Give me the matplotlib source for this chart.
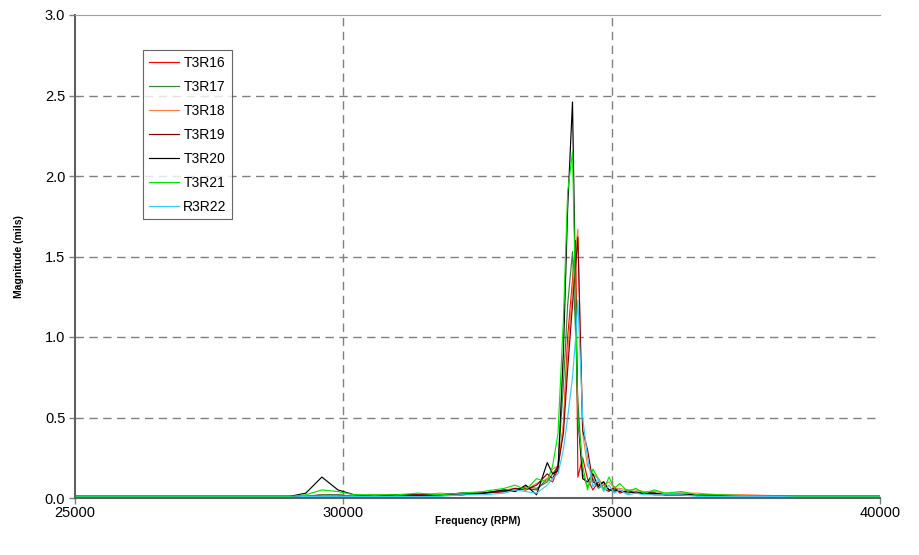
import matplotlib
matplotlib.use("Agg")
import matplotlib.pyplot as plt

# Frequency grid (RPM) shared by all runs
freq = [25000, 26000, 27000, 28000, 29000, 29300, 29600, 29900, 30200, 30600,
        31000, 31400, 31800, 32200, 32600, 33000, 33200, 33400, 33600, 33800,
        33900, 34000, 34100, 34180, 34270, 34330, 34370, 34460, 34550, 34650,
        34750, 34850, 34950, 35050, 35150, 35300, 35450, 35600, 35800, 36000,
        36300, 36600, 37000, 37500, 38000, 38500, 39000, 39500, 40000]

t3r16 = [0.01, 0.01, 0.01, 0.01, 0.01, 0.01, 0.02, 0.02, 0.01, 0.01,
         0.02, 0.01, 0.02, 0.02, 0.03, 0.04, 0.05, 0.06, 0.05, 0.12,
         0.10, 0.18, 0.45, 1.00, 1.35, 1.60, 0.13, 0.25, 0.12, 0.05,
         0.10, 0.06, 0.04, 0.07, 0.03, 0.05, 0.03, 0.04, 0.03, 0.02,
         0.03, 0.02, 0.02, 0.015, 0.01, 0.01, 0.01, 0.01, 0.01]
t3r17 = [0.01, 0.01, 0.01, 0.01, 0.01, 0.01, 0.02, 0.02, 0.01, 0.02,
         0.02, 0.02, 0.02, 0.03, 0.03, 0.05, 0.04, 0.07, 0.06, 0.10,
         0.15, 0.20, 0.70, 1.20, 1.53, 1.00, 0.60, 0.15, 0.07, 0.12,
         0.06, 0.08, 0.05, 0.04, 0.05, 0.03, 0.04, 0.03, 0.03, 0.02,
         0.02, 0.02, 0.015, 0.01, 0.01, 0.01, 0.01, 0.01, 0.01]
t3r18 = [0.01, 0.01, 0.01, 0.01, 0.01, 0.01, 0.01, 0.01, 0.01, 0.02,
         0.02, 0.02, 0.03, 0.02, 0.03, 0.05, 0.06, 0.05, 0.09, 0.12,
         0.18, 0.20, 0.45, 0.90, 1.30, 1.55, 1.67, 0.40, 0.20, 0.15,
         0.12, 0.08, 0.10, 0.06, 0.06, 0.05, 0.05, 0.04, 0.04, 0.03,
         0.03, 0.03, 0.02, 0.02, 0.015, 0.01, 0.01, 0.01, 0.01]
t3r19 = [0.01, 0.01, 0.01, 0.01, 0.01, 0.01, 0.01, 0.01, 0.01, 0.01,
         0.02, 0.02, 0.02, 0.03, 0.03, 0.04, 0.06, 0.05, 0.08, 0.15,
         0.12, 0.20, 0.40, 0.80, 1.20, 1.45, 1.62, 0.42, 0.30, 0.10,
         0.08, 0.10, 0.05, 0.06, 0.04, 0.04, 0.03, 0.03, 0.02, 0.02,
         0.02, 0.02, 0.015, 0.01, 0.01, 0.01, 0.01, 0.01, 0.01]
t3r20 = [0.01, 0.01, 0.01, 0.01, 0.01, 0.03, 0.13, 0.05, 0.02, 0.01,
         0.02, 0.015, 0.02, 0.02, 0.03, 0.05, 0.04, 0.08, 0.02, 0.22,
         0.15, 0.17, 0.90, 1.80, 2.46, 1.20, 0.50, 0.12, 0.10, 0.15,
         0.07, 0.10, 0.05, 0.05, 0.04, 0.04, 0.03, 0.03, 0.03, 0.02,
         0.02, 0.02, 0.015, 0.01, 0.01, 0.01, 0.01, 0.01, 0.01]
t3r21 = [0.01, 0.01, 0.01, 0.01, 0.01, 0.02, 0.05, 0.04, 0.02, 0.02,
         0.02, 0.03, 0.02, 0.03, 0.04, 0.06, 0.08, 0.05, 0.12, 0.10,
         0.20, 0.40, 1.10, 1.90, 2.15, 1.20, 0.50, 0.20, 0.05, 0.18,
         0.12, 0.05, 0.13, 0.06, 0.09, 0.04, 0.06, 0.03, 0.05, 0.03,
         0.04, 0.02, 0.02, 0.015, 0.01, 0.01, 0.01, 0.01, 0.01]
r3r22 = [0.005, 0.005, 0.005, 0.005, 0.005, 0.01, 0.01, 0.01, 0.01, 0.01,
         0.01, 0.01, 0.01, 0.02, 0.02, 0.03, 0.05, 0.04, 0.03, 0.08,
         0.12, 0.15, 0.30, 0.50, 0.75, 1.00, 1.23, 0.50, 0.25, 0.07,
         0.12, 0.04, 0.08, 0.03, 0.05, 0.02, 0.03, 0.02, 0.02, 0.02,
         0.02, 0.01, 0.01, 0.01, 0.01, 0.005, 0.005, 0.005, 0.005]

labels = ["T3R16", "T3R17", "T3R18", "T3R19", "T3R20", "T3R21", "R3R22"]
series = [t3r16, t3r17, t3r18, t3r19, t3r20, t3r21, r3r22]
colors = ["#ff0000", "#2e8b2e", "#ff8040", "#800000", "#000000", "#00e600", "#33ccff"]

x_ticks = [25000, 30000, 35000, 40000]
y_ticks = [0, 0.5, 1.0, 1.5, 2.0, 2.5, 3.0]

plt.rcParams["font.family"] = ["Liberation Sans", "DejaVu Sans"]

fig = plt.figure(figsize=(9.19, 5.55), dpi=100)
ax = fig.add_axes([75 / 919, 57 / 555, 805 / 919, 483 / 555])

# dashed gridlines on the inner ticks only
for xv in x_ticks[1:-1]:
    ax.axvline(xv, color="#808080", linestyle=(0, (6, 4)), lw=1, zorder=0)
for yv in y_ticks[1:-1]:
    ax.axhline(yv, color="#808080", linestyle=(0, (6, 4)), lw=1, zorder=0)

for vals, lab, col in zip(series, labels, colors):
    ax.plot(freq, vals, color=col, lw=0.85, label=lab)

ax.set_xlim(25000, 40000)
ax.set_ylim(0, 3.0)
ax.set_xticks(x_ticks)
ax.set_yticks(y_ticks)
ax.set_yticklabels(["0.0", "0.5", "1.0", "1.5", "2.0", "2.5", "3.0"])
ax.tick_params(direction="out", length=4, width=1, color="#808080",
               labelsize=10.5)
ax.tick_params(axis="x", pad=2)
ax.tick_params(axis="y", pad=3)

for side in ["left", "bottom"]:
    ax.spines[side].set_color("#606060")
    ax.spines[side].set_linewidth(1.5)
ax.spines["top"].set_color("#a0a0a0")
ax.spines["top"].set_linewidth(0.8)
ax.spines["right"].set_visible(False)

ax.set_xlabel("Frequency (RPM)", fontsize=7.5, fontweight="bold", labelpad=-3)
ax.set_ylabel("Magnitude (mils)", fontsize=7.5, fontweight="bold", labelpad=15)

leg = ax.legend(loc="upper left", bbox_to_anchor=(143 / 919, 1 - 50 / 555),
                bbox_transform=fig.transFigure, fontsize=10, frameon=True,
                fancybox=False, edgecolor="#404040", handlelength=2.2,
                handletextpad=0.3, labelspacing=0.72, borderpad=0.4,
                borderaxespad=0)
leg.get_frame().set_linewidth(0.8)

fig.savefig("out.png", dpi=100)
